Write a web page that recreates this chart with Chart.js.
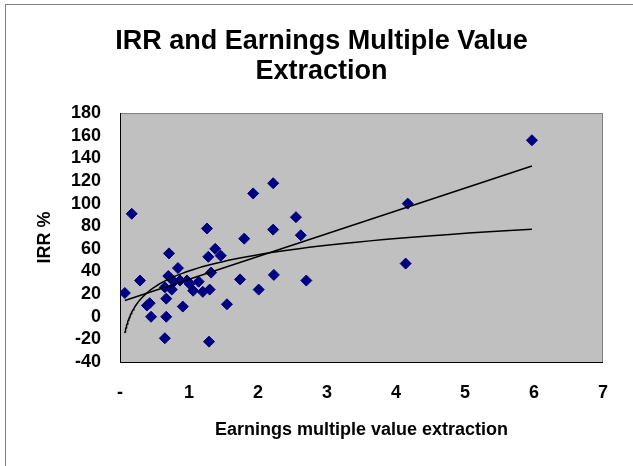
<!DOCTYPE html>
<html>
<head>
<meta charset="utf-8">
<script src="https://cdn.jsdelivr.net/npm/chart.js@4"></script>
<style>
  html, body { margin: 0; padding: 0; background: #ffffff; }
  #wrap { position: relative; width: 633px; height: 466px; overflow: hidden; }
  #frame { position: absolute; left: 5px; top: 4px; width: 700px; height: 500px;
           border-top: 1px solid #808080; border-left: 1px solid #808080; }
  #chart { position: absolute; left: 0; top: 0; }
</style>
</head>
<body>
<div id="wrap">
  <div id="frame"></div>
  <canvas id="chart" width="633" height="466"></canvas>
</div>
<script>
/* Earnings multiple (x) vs IRR % (y) */
const multiples = [0.07, 0.17, 0.29, 0.39, 0.43, 0.45, 0.65, 0.65, 0.67, 0.67, 0.70, 0.71,
                   0.75, 0.78, 0.84, 0.87, 0.91, 0.97, 1.01, 1.06, 1.14, 1.20, 1.26, 1.28,
                   1.29, 1.30, 1.32, 1.38, 1.46, 1.55, 1.74, 1.80, 1.93, 2.01, 2.22, 2.22,
                   2.23, 2.55, 2.62, 2.70, 4.14, 4.17, 5.97];
const irrValues = [21, 91, 32, 10, 12, 0, -19, 26, 0, 16, 36, 56,
                   24, 31, 43, 32, 9, 32, 29, 23, 31, 22, 78, 53,
                   -22, 24, 39, 60, 54, 11, 33, 69, 109, 24, 118, 77,
                   37, 88, 72, 32, 47, 100, 156];

const xTicks = [0, 1, 2, 3, 4, 5, 6, 7];
const yTicks = [-40, -20, 0, 20, 40, 60, 80, 100, 120, 140, 160, 180];

const titleLines = ['IRR and Earnings Multiple Value', 'Extraction'];
const xTitle = 'Earnings multiple value extraction';
const yTitle = 'IRR %';

// least squares fit of y = a*f(x) + b
function fit(fx) {
  const n = multiples.length;
  let sx = 0, sy = 0, sxx = 0, sxy = 0;
  for (let i = 0; i < n; i++) {
    const u = fx(multiples[i]);
    sx += u; sy += irrValues[i]; sxx += u * u; sxy += u * irrValues[i];
  }
  const a = (n * sxy - sx * sy) / (n * sxx - sx * sx);
  return { a: a, b: (sy - a * sx) / n };
}

const lin = fit(x => x);
const lg = fit(x => Math.log(x));
const xMin = Math.min(...multiples);
const xMax = Math.max(...multiples);

const linearTrend = [xMin, xMax].map(x => ({ x: x, y: lin.a * x + lin.b }));
const logTrend = [];
for (let i = 0; i <= 80; i++) {
  const x = xMin * Math.pow(xMax / xMin, i / 80);
  logTrend.push({ x: x, y: lg.a * Math.log(x) + lg.b });
}

const points = multiples.map((x, i) => ({ x: x, y: irrValues[i] }));

const FONT = "'Liberation Sans', Arial, sans-serif";

// grey plot area with a thin border, like the old Excel look
const plotArea = {
  id: 'plotArea',
  beforeDatasetsDraw(chart) {
    const { ctx, chartArea: a } = chart;
    ctx.save();
    ctx.fillStyle = '#c0c0c0';
    ctx.fillRect(a.left, a.top, a.right - a.left, a.bottom - a.top);
    ctx.strokeStyle = '#808080';
    ctx.lineWidth = 1;
    ctx.strokeRect(a.left + 0.5, a.top + 0.5, a.right - a.left - 1, a.bottom - a.top);
    ctx.strokeStyle = '#000000';
    ctx.beginPath();
    ctx.moveTo(a.left + 0.5, a.top);
    ctx.lineTo(a.left + 0.5, a.bottom + 0.5);
    ctx.lineTo(a.right, a.bottom + 0.5);
    ctx.stroke();
    ctx.restore();
  }
};

new Chart(document.getElementById('chart'), {
  type: 'scatter',
  data: {
    datasets: [{
      data: linearTrend,
      showLine: true,
      borderColor: '#000000',
      borderWidth: 1.5,
      pointRadius: 0,
      order: 0
    }, {
      data: logTrend,
      showLine: true,
      borderColor: '#000000',
      borderWidth: 1.5,
      pointRadius: 0,
      order: 0
    }, {
      data: points,
      pointStyle: 'rectRot',
      pointRadius: 5.5,
      borderWidth: 1,
      backgroundColor: '#000080',
      borderColor: '#000080',
      order: 1
    }]
  },
  options: {
    responsive: false,
    animation: false,
    events: [],
    layout: { padding: { left: 40, right: 30, top: 0, bottom: 0 } },
    plugins: {
      legend: { display: false },
      tooltip: { enabled: false },
      title: {
        display: true,
        text: titleLines,
        color: '#000000',
        font: { family: FONT, size: 27, weight: 'bold', lineHeight: 1.12 },
        padding: { top: 26, bottom: 26.6 }
      }
    },
    scales: {
      x: {
        type: 'linear',
        min: xTicks[0],
        max: xTicks[xTicks.length - 1],
        afterBuildTicks: (s) => { s.ticks = xTicks.map(v => ({ value: v })); },
        afterFit: (s) => { s.height = 104; },
        grid: { display: false, drawTicks: false },
        border: { display: false },
        ticks: {
          autoSkip: false,
          padding: 20,
          color: '#000000',
          font: { family: FONT, size: 18, weight: 'bold' },
          callback: (v) => v === 0 ? '-' : String(v)
        },
        title: {
          display: true,
          text: xTitle,
          color: '#000000',
          font: { family: FONT, size: 18, weight: 'bold' },
          padding: { top: 0, bottom: 25 }
        }
      },
      y: {
        type: 'linear',
        min: yTicks[0],
        max: yTicks[yTicks.length - 1],
        afterBuildTicks: (s) => { s.ticks = yTicks.map(v => ({ value: v })); },
        afterFit: (s) => { s.width = 80; },
        grid: { display: false, drawTicks: false },
        border: { display: false },
        ticks: {
          autoSkip: false,
          padding: 19,
          color: '#000000',
          font: { family: FONT, size: 18, weight: 'bold' }
        },
        title: {
          display: true,
          text: yTitle,
          color: '#000000',
          font: { family: FONT, size: 18, weight: 'bold' },
          padding: { top: -6, bottom: 0 }
        }
      }
    }
  },
  plugins: [plotArea]
});
</script>
</body>
</html>
